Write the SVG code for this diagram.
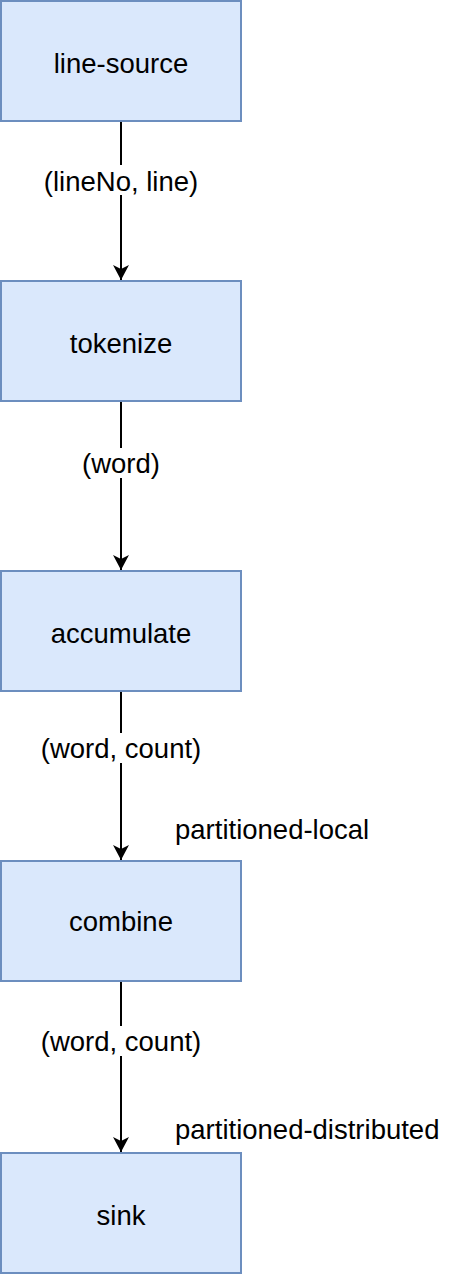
<svg xmlns="http://www.w3.org/2000/svg" width="472" height="1274" viewBox="0 0 472 1274">
<style>
.box{fill:#dae8fc;stroke:#6c8ebf;stroke-width:2}
.t{font-family:"Liberation Sans",Arial,sans-serif;font-size:27.5px;fill:#000;text-anchor:middle;dominant-baseline:central}
.lbl{font-family:"Liberation Sans",Arial,sans-serif;font-size:27.5px;fill:#000;dominant-baseline:central}
.edge{stroke:#000;stroke-width:2;fill:none}
.bg{fill:#fff}
</style>
<defs>
<marker id="arr" markerWidth="16" markerHeight="18" refX="15" refY="8" orient="auto" markerUnits="userSpaceOnUse">
<path d="M0,0 L15,8 L0,16 L4,8 Z" fill="#000"/>
</marker>
</defs>
<rect width="472" height="1274" fill="#fff"/>
<g id="connectors">
<line class="edge" x1="121" y1="121" x2="121" y2="280" marker-end="url(#arr)"/>
<line class="edge" x1="121" y1="401" x2="121" y2="570" marker-end="url(#arr)"/>
<line class="edge" x1="121" y1="691" x2="121" y2="860" marker-end="url(#arr)"/>
<line class="edge" x1="121" y1="981" x2="121" y2="1152" marker-end="url(#arr)"/>
<rect class="bg" x="40" y="165" width="162" height="30"/>
<text class="t" x="121" y="181">(lineNo, line)</text>
<rect class="bg" x="76" y="448" width="90" height="30"/>
<text class="t" x="121" y="463">(word)</text>
<rect class="bg" x="36" y="733" width="170" height="30"/>
<text class="t" x="121" y="748">(word, count)</text>
<text class="lbl" x="175" y="829">partitioned-local</text>
<rect class="bg" x="36" y="1026" width="170" height="30"/>
<text class="t" x="121" y="1041">(word, count)</text>
<text class="lbl" x="175" y="1129">partitioned-distributed</text>
</g>
<g id="line-source"><rect class="box" x="1" y="1" width="240" height="120"/><text class="t" x="121" y="63">line-source</text></g>
<g id="tokenize"><rect class="box" x="1" y="281" width="240" height="120"/><text class="t" x="121" y="343">tokenize</text></g>
<g id="accumulate"><rect class="box" x="1" y="571" width="240" height="120"/><text class="t" x="121" y="633">accumulate</text></g>
<g id="combine"><rect class="box" x="1" y="861" width="240" height="120"/><text class="t" x="121" y="921">combine</text></g>
<g id="sink"><rect class="box" x="1" y="1153" width="240" height="120"/><text class="t" x="121" y="1215">sink</text></g>
</svg>
